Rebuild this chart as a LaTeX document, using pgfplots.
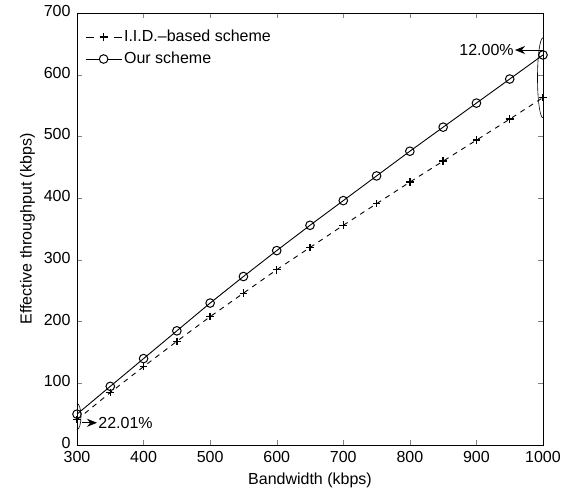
\documentclass[border=0pt]{standalone}
\usepackage{pgfplots}
\pgfplotsset{compat=1.18}
\usepackage{fontspec}
\setmainfont{Liberation Sans}
\usetikzlibrary{arrows.meta}

\begin{document}
\fontsize{16}{19}\selectfont
\begin{tikzpicture}
\begin{axis}[
    width=466pt, height=432pt,
    scale only axis,
    xmin=300, xmax=1000,
    ymin=0, ymax=700,
    xtick={300,400,...,1000},
    ytick={0,100,...,700},
    tick align=inside,
    major tick length=5pt,
    xlabel={Bandwidth (kbps)},
    ylabel={Effective throughput (kbps)},
    /pgf/number format/assume math mode=true,
    /pgf/number format/set thousands separator={},
    tick label style={font=\fontsize{16}{19}\selectfont},
    label style={font=\fontsize{16}{19}\selectfont},
    xticklabel style={yshift=-1pt},
    yticklabel style={xshift=-1pt, yshift=2pt},
    xlabel style={yshift=1pt},
    ylabel style={yshift=-2pt},
    axis line style={line width=0.9pt},
    legend style={
        at={(0.015,0.968)}, anchor=north west,
        draw=none, fill=none,
        font=\fontsize{16}{19}\selectfont,
        row sep=4pt,
        inner sep=1pt,
    },
    legend cell align=left,
]
\addplot[black, line width=0.9pt, dash pattern=on 5pt off 5pt,
    mark=+, mark size=3.8pt, mark options={solid, line width=1.3pt},
    legend image code/.code={
        \draw[black, solid, line width=0.9pt] (0pt,0pt) -- (8pt,0pt) (28pt,0pt) -- (36pt,0pt);
        \draw[black, solid, line width=1.3pt] (14pt,0pt) -- (22pt,0pt) (18pt,-4pt) -- (18pt,4pt);
    }] coordinates {
    (300,41) (350,85) (400,127) (450,168) (500,208) (550,246) (600,284)
    (650,320) (700,356) (750,391) (800,426) (850,460) (900,494)
    (950,528) (1000,563)
};
\addlegendentry{I.I.D.--based scheme}
\addplot[black, line width=0.9pt, mark=o, mark size=4.3pt,
    mark options={line width=1pt},
    legend image code/.code={
        \draw[black, solid, line width=0.9pt] (0pt,0pt) -- (36pt,0pt);
        \draw[black, solid, line width=1pt, fill=white] (18pt,0pt) circle[radius=4.3pt];
    }] coordinates {
    (300,50) (350,95) (400,140) (450,185) (500,230) (550,273) (600,315)
    (650,356) (700,396) (750,436) (800,476) (850,515) (900,554)
    (950,593) (1000,632)
};
\addlegendentry{Our scheme}

\draw[line width=0.6pt] (axis cs:1000,595) ellipse [x radius=5.5pt, y radius=40pt];
\draw[line width=0.8pt, -{Stealth[length=10pt, width=8pt]}]
    (axis cs:1000,640) -- (axis cs:958,640)
    node[left, inner sep=1pt] {12.00\%};
\draw[line width=0.6pt] (axis cs:300,46) ellipse [x radius=4pt, y radius=13pt];
\draw[line width=0.8pt, -{Stealth[length=10pt, width=8pt]}]
    (axis cs:307,36) -- (axis cs:330,36)
    node[right, inner sep=1pt] {22.01\%};
\coordinate (sw) at (rel axis cs:0,0);
\coordinate (ne) at (rel axis cs:1,1);
\end{axis}
\pgfresetboundingbox
\path (sw) ++(-77pt,-51pt) coordinate (bbl);
\path (ne) ++(25pt,13pt) coordinate (bbr);
\useasboundingbox (bbl) rectangle (bbr);
\end{tikzpicture}
\end{document}
